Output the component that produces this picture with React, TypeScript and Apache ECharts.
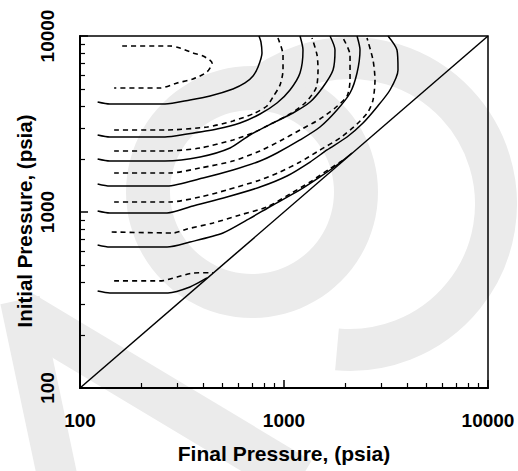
import React, { useEffect, useRef } from "react";
import * as echarts from "echarts";

// Final pressure (x) / initial pressure (y), psia
const solid1: number[][] = [[122,4217],[140,4108],[261,4108],[346,4329],[434,4561],[562,5000],[644,5408],[705,5927],[746,6667],[780,8006],[771,9245],[754,10000]];
const dashedLoop: number[][] = [[161,8774],[276,8774],[309,8550],[358,8006],[401,7699],[444,7025],[419,6245],[358,5698],[299,5408],[247,5064],[147,5064]];
const dashed2: number[][] = [[147,2923],[261,2923],[419,3041],[562,3289],[721,3652],[825,4003],[883,4502],[956,5267],[989,6410],[989,7800],[934,9741]];
const solid2: number[][] = [[122,2739],[140,2668],[261,2668],[335,2775],[469,2962],[609,3204],[763,3605],[924,4162],[1070,4934],[1198,6164],[1239,8326],[1198,10000]];
const dashed3: number[][] = [[147,2222],[267,2222],[388,2310],[562,2566],[721,2848],[825,3082],[1070,3605],[1268,4162],[1436,5064],[1468,6410],[1452,7800],[1372,9741]];
const solid3: number[][] = [[122,2001],[140,1949],[261,1949],[388,2054],[544,2310],[681,2739],[883,3204],[1107,3652],[1342,4217],[1553,5131],[1739,6410],[1778,8326],[1681,10000]];
const dashed4: number[][] = [[147,1666],[276,1666],[388,1778],[562,1949],[763,2222],[956,2532],[1198,2923],[1501,3376],[1778,3898],[2037,4561],[2107,5623],[2107,7800],[1946,9741]];
const solid4: number[][] = [[122,1443],[140,1405],[267,1405],[401,1561],[562,1733],[763,1949],[924,2164],[1198,2566],[1501,3041],[1819,3798],[2107,4744],[2280,6164],[2358,8326],[2280,10000]];
const dashed5: number[][] = [[147,1140],[276,1140],[388,1217],[525,1334],[763,1520],[956,1688],[1198,1923],[1501,2251],[1881,2633],[2280,3162],[2581,3700],[2731,4329],[2793,5623],[2731,7305],[2552,9741]];
const solid5: number[][] = [[122,1013],[140,987],[267,987],[358,1082],[525,1217],[763,1387],[1034,1602],[1342,1923],[1625,2251],[2037,2668],[2440,3204],[2857,3950],[3308,4934],[3621,6410],[3580,8326],[3235,10000]];
const dashed6: number[][] = [[143,770],[286,760],[335,801],[449,866],[609,962],[825,1068],[1070,1266],[1342,1481],[1644,1733],[1991,2001]];
const solid6: number[][] = [[122,649],[140,632],[267,632],[346,675],[502,760],[659,901],[883,1096],[1198,1334],[1501,1581],[1819,1849],[2154,2164]];
const dashed7: number[][] = [[147,406],[247,406],[299,427],[358,450],[449,452]];
const solid7: number[][] = [[122,356],[140,347],[270,347],[346,375],[419,422]];
const diagonal: number[][] = [[100,100],[10000,10000]];

const majorTicks = [100, 1000, 10000];
const minorTicks = [200, 300, 400, 500, 600, 700, 800, 900, 2000, 3000, 4000, 5000, 6000, 7000, 8000, 9000];

const xTitle = "Final Pressure, (psia)";
const yTitle = "Initial Pressure, (psia)";

const solidContours = [solid1, solid2, solid3, solid4, solid5, solid6, solid7];
const dashedContours = [dashedLoop, dashed2, dashed3, dashed4, dashed5, dashed6, dashed7];

const FONT = '"Liberation Sans", Arial, sans-serif';
const WM = "#ebebeb";

export default function App() {
  const ref = useRef<HTMLDivElement>(null);
  useEffect(() => {
    const chart = echarts.init(ref.current!, null, { renderer: "svg" });
    const base = {
      type: "log" as const,
      logBase: 10,
      min: 100,
      max: 10000,
      splitLine: { show: false },
      minorSplitLine: { show: false },
    };
    const labelStyle = {
      fontSize: 19, fontWeight: "bold" as const, color: "#000", fontFamily: FONT,
      showMinLabel: true, showMaxLabel: true, customValues: majorTicks,
      formatter: (v: number) => String(Math.round(v)),
    };
    const minorAxis = {
      ...base,
      axisLine: { show: false },
      axisLabel: { show: false },
      axisTick: { show: true, inside: true, length: 5, customValues: minorTicks, lineStyle: { color: "#000", width: 1.2 } },
    };
    const series: any[] = [];
    solidContours.forEach((d, i) => {
      series.push({
        name: "solid" + i, type: "line", data: d, showSymbol: false, smooth: 0.25,
        lineStyle: { color: "#000", width: 1.5, type: "solid" }, z: 3,
      });
    });
    dashedContours.forEach((d, i) => {
      series.push({
        name: "dashed" + i, type: "line", data: d, showSymbol: false, smooth: 0.25,
        lineStyle: { color: "#000", width: 1.6, type: [5, 4] }, z: 3,
      });
    });
    series.push({
      name: "diagonal", type: "line", data: diagonal, showSymbol: false,
      lineStyle: { color: "#000", width: 1.5 }, z: 3,
    });
    chart.setOption({
      animation: false,
      backgroundColor: "#fff",
      grid: { left: 80, right: 30, top: 36, bottom: 83, show: true, borderColor: "#000", borderWidth: 1.5, backgroundColor: "transparent" },
      graphic: [
        { type: "ring", z: -10, silent: true, shape: { cx: 252, cy: 192, r: 126, r0: 82 }, style: { fill: WM } },
        { type: "arc", z: -10, silent: true, shape: { cx: 350, cy: 204, r: 146, startAngle: -2.25, endAngle: 1.66, clockwise: true }, style: { stroke: WM, lineWidth: 42, fill: null } },
        { type: "line", z: -10, silent: true, shape: { x1: 20, y1: 300, x2: 58, y2: 480 }, style: { stroke: WM, lineWidth: 40 } },
        { type: "line", z: -10, silent: true, shape: { x1: 20, y1: 312, x2: 300, y2: 480 }, style: { stroke: WM, lineWidth: 45 } },
        {
          type: "text", z: 5, silent: true, x: 24, y: 221, rotation: Math.PI / 2,
          style: { text: yTitle, font: 'bold 20.5px "Liberation Sans", Arial, sans-serif', fill: "#000", textAlign: "center", textVerticalAlign: "middle" },
        },
      ],
      xAxis: [
        {
          ...base,
          position: "bottom",
          name: xTitle,
          nameLocation: "middle",
          nameGap: 55,
          nameTextStyle: { fontSize: 21, fontWeight: "bold", color: "#000", fontFamily: FONT },
          axisLine: { show: true, lineStyle: { color: "#000", width: 2 } },
          axisTick: { show: true, inside: true, length: 8, customValues: majorTicks, lineStyle: { color: "#000", width: 1.5 } },
          axisLabel: { ...labelStyle, margin: 23 },
        },
        { ...minorAxis, position: "bottom" },
      ],
      yAxis: [
        {
          ...base,
          position: "left",
          axisLine: { show: true, lineStyle: { color: "#000", width: 2 } },
          axisTick: { show: true, inside: true, length: 8, customValues: majorTicks, lineStyle: { color: "#000", width: 1.5 } },
          axisLabel: { ...labelStyle, margin: 23, rotate: 90 },
        },
        { ...minorAxis, position: "left" },
      ],
      series,
    });
    return () => chart.dispose();
  }, []);
  return <div ref={ref} style={{ position: "absolute", left: 0, top: 0, width: 518, height: 471 }} />;
}
